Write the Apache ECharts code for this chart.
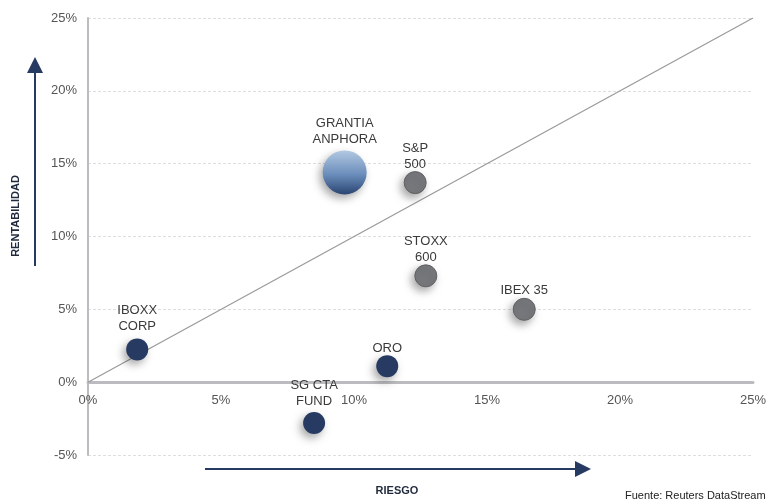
<!DOCTYPE html>
<html><head><meta charset="utf-8">
<script src="https://cdn.jsdelivr.net/npm/echarts@6/dist/echarts.min.js"></script>
<style>html,body{margin:0;padding:0;background:#fff}#c{width:769px;height:499px}</style>
</head><body><div id="c"></div>
<script>
var names = ['IBOXX\nCORP', 'GRANTIA\nANPHORA', 'S&P\n500', 'STOXX\n600', 'IBEX 35', 'ORO', 'SG CTA\nFUND'];
var riesgo = [1.85, 9.65, 12.3, 12.7, 16.4, 11.25, 8.5];
var rentabilidad = [2.25, 14.4, 13.7, 7.3, 5.0, 1.1, -2.8];
var groups = ['navy', 'grantia', 'gray', 'gray', 'gray', 'navy', 'navy'];
var labelGap = [4, 3, -1, -1, -1, -1, 3];
var xTicks = [0, 5, 10, 15, 20, 25];
var yTicks = [-5, 0, 5, 10, 15, 20, 25];
var diagonal = [[0, 0], [25, 25]];

var navy = '#263a62';
var grayFill = '#77787b';
var shadow = {opacity: 1, shadowBlur: 8, shadowColor: 'rgba(0,0,0,0.35)', shadowOffsetX: -3, shadowOffsetY: 4};
function styleFor(g) {
  if (g === 'navy') return Object.assign({color: navy}, shadow);
  if (g === 'gray') return Object.assign({color: grayFill, borderColor: '#5f6063', borderWidth: 1}, shadow);
  return Object.assign({color: new echarts.graphic.LinearGradient(0, 0, 0, 1, [
    {offset: 0, color: '#b2c9e2'}, {offset: 0.55, color: '#6b8dbb'}, {offset: 1, color: '#2a4572'}])}, shadow);
}
var pts = names.map(function (n, i) {
  return {name: n, value: [riesgo[i], rentabilidad[i]], symbolSize: groups[i] === 'grantia' ? 44 : 22,
    itemStyle: styleFor(groups[i]), label: {distance: labelGap[i]}};
});
var FONT = '"Liberation Sans", Arial, sans-serif';
var chart = echarts.init(document.getElementById('c'), null, {renderer: 'canvas'});
chart.setOption({
  animation: false,
  grid: {left: 88, right: 15, top: 18, bottom: 44},
  xAxis: {type: 'value', min: xTicks[0], max: xTicks[xTicks.length - 1], interval: 5,
    offset: -73,
    axisLine: {onZero: false, lineStyle: {color: '#bcbcc0', width: 3}},
    axisTick: {show: false}, splitLine: {show: false},
    axisLabel: {formatter: '{value}%', color: '#555', fontSize: 13, fontFamily: FONT, margin: 12}},
  yAxis: {type: 'value', min: yTicks[0], max: yTicks[yTicks.length - 1], interval: 5,
    axisLine: {show: true, onZero: false, lineStyle: {color: '#bcbcc0', width: 2}},
    axisTick: {show: false},
    splitLine: {show: true, lineStyle: {color: '#dedede', type: [3, 2], width: 1}},
    axisLabel: {formatter: '{value}%', color: '#555', fontSize: 13, fontFamily: FONT, margin: 11}},
  series: [
    {type: 'line', data: diagonal, symbol: 'none', silent: true,
      lineStyle: {color: '#9a9a9a', width: 1.2}, z: 2},
    {type: 'scatter', data: pts, z: 5,
      label: {show: true, position: 'top', formatter: '{b}', color: '#3a3a3a',
        fontSize: 13, fontFamily: FONT, lineHeight: 16, align: 'center'}}
  ],
  graphic: [
    {type: 'line', shape: {x1: 35, y1: 266, x2: 35, y2: 70}, style: {stroke: navy, lineWidth: 2}},
    {type: 'polygon', shape: {points: [[35, 57], [27, 73], [43, 73]]}, style: {fill: navy}},
    {type: 'line', shape: {x1: 205, y1: 469, x2: 578, y2: 469}, style: {stroke: navy, lineWidth: 2}},
    {type: 'polygon', shape: {points: [[591, 469], [575, 461], [575, 477]]}, style: {fill: navy}},
    {type: 'text', x: 16, y: 216, rotation: Math.PI / 2,
      style: {text: 'RENTABILIDAD', fill: '#1f2a3d', font: 'bold 11px ' + FONT, align: 'center', verticalAlign: 'middle'}},
    {type: 'text', x: 397, y: 491,
      style: {text: 'RIESGO', fill: '#1f2a3d', font: 'bold 11px ' + FONT, align: 'center', verticalAlign: 'middle'}},
    {type: 'text', x: 625, y: 490,
      style: {text: 'Fuente: Reuters DataStream', fill: '#222', font: '11px ' + FONT, align: 'left', verticalAlign: 'top'}}
  ]
});
</script></body></html>
